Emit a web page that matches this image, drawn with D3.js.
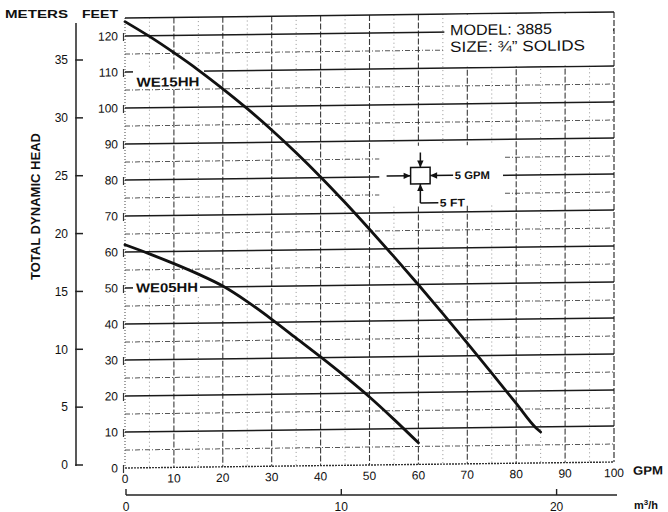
<!DOCTYPE html>
<html><head><meta charset="utf-8">
<script src="https://cdn.jsdelivr.net/npm/d3@7/dist/d3.min.js"></script>
<style>
body{margin:0;background:#fff}
svg{display:block}
text{font-family:"Liberation Sans",Arial,Helvetica,sans-serif;fill:#111}
</style>
</head><body>
<svg id="c" width="668" height="512"></svg>
<script>
// ---------------- data ----------------
const gpmTicks   = [0,10,20,30,40,50,60,70,80,90,100];
const feetTicks  = [0,10,20,30,40,50,60,70,80,90,100,110,120];
const meterTicks = [0,5,10,15,20,25,30,35];
const m3hTicks   = [0,10,20];

const we15hhGpm  = [0,5,10,15,20,25,30,35,40,45,50,55,60,65,70,75,80,84,85];
const we15hhFeet = [124,119.8,115.2,110.3,105,99.4,93.4,87,80.2,73,65.5,57.8,49.9,41.8,33.5,25.1,16.6,9.8,8.6];
const we05hhGpm  = [0,5,10,15,20,25,30,35,40,45,50,55,60];
const we05hhFeet = [62,59.4,56.6,53.6,50.2,45.8,40.8,35.5,30.2,24.7,18.9,12.6,6];

const curveNames  = ["WE15HH","WE05HH"];
const modelLines  = ["MODEL: 3885","SIZE: \u00BE\u201D SOLIDS"];
const scaleTexts  = ["5 GPM","5 FT"];
const axisTitles  = {meters:"METERS", feet:"FEET", head:"TOTAL DYNAMIC HEAD", gpm:"GPM"};

// ---------------- scales ----------------
const GPM_PER_M3H = 4.40287;
const x   = d3.scaleLinear().domain([0,100]).range([125,614]);
const y   = d3.scaleLinear().domain([0,125]).range([468,18]);
const yM  = d3.scaleLinear().domain([0,35]).range([465,60]);
const xM3 = d3.scaleLinear().domain([0,100/GPM_PER_M3H]).range([125,614]);

const svg = d3.select("#c");
svg.append("rect").attr("width",668).attr("height",512).attr("fill","#fff");

// scanned sheet is slightly sheared: right side sits higher
const g = svg.append("g").attr("transform","translate(0,1.53) skewY(-0.7)");

// ---------------- grid ----------------
const minorFeet = d3.range(5,125,10);
const minorGpm  = d3.range(5,100,10);

g.selectAll(".vminor").data(minorGpm).join("line")
  .attr("x1",d=>x(d)).attr("x2",d=>x(d)).attr("y1",y(125)).attr("y2",y(0))
  .attr("stroke","#8a8a8a").attr("stroke-width",0.9).attr("stroke-dasharray","1,3");

g.selectAll(".hminor").data(minorFeet).join("line")
  .attr("x1",x(0)).attr("x2",x(100)).attr("y1",d=>y(d)).attr("y2",d=>y(d))
  .attr("stroke","#555").attr("stroke-width",1).attr("stroke-dasharray","5,2,1,2");

g.selectAll(".vmajor").data(gpmTicks.filter(d=>d>0&&d<100)).join("line")
  .attr("x1",d=>x(d)).attr("x2",d=>x(d)).attr("y1",y(125)).attr("y2",y(0))
  .attr("stroke","#3a3a3a").attr("stroke-width",1.1).attr("stroke-dasharray","6,2");

g.append("line").attr("x1",x(0)).attr("x2",x(0)).attr("y1",y(125)).attr("y2",y(0))
  .attr("stroke","#444").attr("stroke-width",1).attr("stroke-dasharray","1,2");
g.append("line").attr("x1",x(100)).attr("x2",x(100)).attr("y1",y(125)).attr("y2",y(0))
  .attr("stroke","#333").attr("stroke-width",1.2).attr("stroke-dasharray","6,2");

g.selectAll(".hmajor").data(feetTicks.filter(d=>d>0).concat([125])).join("line")
  .attr("x1",x(0)).attr("x2",x(100)).attr("y1",d=>y(d)).attr("y2",d=>y(d))
  .attr("stroke","#1a1a1a").attr("stroke-width",1.5);
g.append("line").attr("x1",x(0)).attr("x2",x(100)).attr("y1",y(0)).attr("y2",y(0))
  .attr("stroke","#333").attr("stroke-width",1.4).attr("stroke-dasharray","2,1");

// ---------------- white panels ----------------
g.append("rect").attr("x",x(65)+1.5).attr("y",y(125)+1).attr("width",x(100)-x(65)-2.5)
  .attr("height",y(110)-y(125)-2).attr("fill","#fff");
g.append("rect").attr("x",x(52)).attr("y",y(88.5)).attr("width",x(77.3)-x(52))
  .attr("height",y(72)-y(88.5)).attr("fill","#fff");
g.append("rect").attr("x",133).attr("y",y(110)-2).attr("width",71).attr("height",y(105)-y(110))
  .attr("fill","#fff");
g.append("rect").attr("x",133).attr("y",y(50)-8).attr("width",67).attr("height",16)
  .attr("fill","#fff");

// ---------------- feet axis ----------------
g.selectAll(".ftick").data(feetTicks).join("line")
  .attr("x1",123.5).attr("x2",123.5).attr("y1",d=>y(d)-3).attr("y2",d=>y(d)+5)
  .attr("stroke","#333").attr("stroke-width",1.2);
g.selectAll(".flab").data(feetTicks).join("text")
  .attr("x",118).attr("y",d=>y(d)).attr("dy","0.36em").attr("text-anchor","end")
  .attr("font-size",12).text(d=>d);

// ---------------- GPM axis ----------------
g.selectAll(".glab").data(gpmTicks).join("text")
  .attr("x",d=>x(d)).attr("y",483).attr("text-anchor","middle")
  .attr("font-size",12).text(d=>d);
g.append("text").attr("x",633).attr("y",481).attr("font-size",12).attr("font-weight","bold")
  .attr("textLength",30).attr("lengthAdjust","spacingAndGlyphs").text(axisTitles.gpm);

// ---------------- curves ----------------
const line = d3.line().x(d=>x(d[0])).y(d=>y(d[1])).curve(d3.curveMonotoneX);
const curves = [d3.zip(we15hhGpm,we15hhFeet), d3.zip(we05hhGpm,we05hhFeet)];
g.selectAll(".curve").data(curves).join("path")
  .attr("d",line).attr("fill","none").attr("stroke","#111")
  .attr("stroke-width",2.8).attr("stroke-linecap","round").attr("stroke-linejoin","round");

g.append("text").attr("x",136.5).attr("y",87).attr("font-size",13).attr("font-weight","bold")
  .attr("textLength",63).attr("lengthAdjust","spacingAndGlyphs").text(curveNames[0]);
g.append("text").attr("x",136).attr("y",y(50)+4.6).attr("font-size",13).attr("font-weight","bold")
  .attr("textLength",62).attr("lengthAdjust","spacingAndGlyphs").text(curveNames[1]);

// ---------------- model text ----------------
g.append("text").attr("x",450).attr("y",39.2).attr("font-size",15)
  .attr("textLength",102).attr("lengthAdjust","spacingAndGlyphs").text(modelLines[0]);
g.append("text").attr("x",450).attr("y",56).attr("font-size",15)
  .attr("textLength",135).attr("lengthAdjust","spacingAndGlyphs").text(modelLines[1]);

// ---------------- scale indicator ----------------
const cx = x(60.4), cy = y(80.2), bw = 19.5, bh = 16.5;
const ind = g.append("g").attr("stroke","#111").attr("fill","none").attr("stroke-width",1.5);
ind.append("rect").attr("x",cx-bw/2).attr("y",cy-bh/2).attr("width",bw).attr("height",bh).attr("fill","#fff");
function arrow(x1,y1,x2,y2){
  ind.append("line").attr("x1",x1).attr("y1",y1).attr("x2",x2).attr("y2",y2);
  const a = Math.atan2(y2-y1,x2-x1), L=7, W=3.2;
  const p = [[x2,y2],[x2-L*Math.cos(a)+W*Math.sin(a), y2-L*Math.sin(a)-W*Math.cos(a)],
             [x2-L*Math.cos(a)-W*Math.sin(a), y2-L*Math.sin(a)+W*Math.cos(a)]];
  ind.append("path").attr("d","M"+p.join("L")+"Z").attr("fill","#111").attr("stroke","none");
}
arrow(cx, cy-bh/2-15, cx, cy-bh/2);
arrow(cx-bw/2-24, cy, cx-bw/2, cy);
arrow(cx+bw/2+23, cy, cx+bw/2, cy);
arrow(cx, cy+bh/2+19, cx, cy+bh/2);
ind.append("line").attr("x1",cx).attr("y1",cy+bh/2+19).attr("x2",cx+18).attr("y2",cy+bh/2+19);
g.append("text").attr("x",cx+34.5).attr("y",cy).attr("dy","0.36em").attr("font-size",11)
  .attr("font-weight","bold").attr("textLength",35).attr("lengthAdjust","spacingAndGlyphs").text(scaleTexts[0]);
g.append("text").attr("x",cx+19.5).attr("y",cy+bh/2+19).attr("dy","0.36em").attr("font-size",11)
  .attr("font-weight","bold").attr("textLength",25).attr("lengthAdjust","spacingAndGlyphs").text(scaleTexts[1]);

// ---------------- meters axis ----------------
svg.append("line").attr("x1",76).attr("x2",76).attr("y1",23).attr("y2",yM(0)+1)
  .attr("stroke","#222").attr("stroke-width",1.5);
svg.selectAll(".mtick").data(meterTicks).join("line")
  .attr("x1",75.25).attr("x2",83).attr("y1",d=>yM(d)).attr("y2",d=>yM(d))
  .attr("stroke","#222").attr("stroke-width",1.5);
svg.selectAll(".mlab").data(meterTicks).join("text")
  .attr("x",68).attr("y",d=>yM(d)).attr("dy","0.36em").attr("text-anchor","end")
  .attr("font-size",12).text(d=>d);

svg.append("text").attr("x",5).attr("y",18).attr("font-size",11).attr("font-weight","bold")
  .attr("textLength",63).attr("lengthAdjust","spacingAndGlyphs").text(axisTitles.meters);
svg.append("text").attr("x",82).attr("y",18).attr("font-size",11).attr("font-weight","bold")
  .attr("textLength",36).attr("lengthAdjust","spacingAndGlyphs").text(axisTitles.feet);
svg.append("text").attr("transform","translate(40,206.5) rotate(-90)").attr("text-anchor","middle")
  .attr("font-size",13).attr("font-weight","bold")
  .attr("textLength",147).attr("lengthAdjust","spacingAndGlyphs").text(axisTitles.head);

// ---------------- m3/h axis ----------------
svg.append("line").attr("x1",126).attr("x2",617).attr("y1",495).attr("y2",495)
  .attr("stroke","#222").attr("stroke-width",1.4);
svg.selectAll(".m3tick").data(m3hTicks).join("line")
  .attr("x1",d=>xM3(d)+1).attr("x2",d=>xM3(d)+1).attr("y1",489).attr("y2",495)
  .attr("stroke","#222").attr("stroke-width",1.4);
svg.selectAll(".m3lab").data(m3hTicks).join("text")
  .attr("x",d=>xM3(d)+1).attr("y",510.5).attr("text-anchor","middle")
  .attr("font-size",12).text(d=>d);
const mt = svg.append("text").attr("x",634).attr("y",509).attr("font-size",11).attr("font-weight","bold");
mt.append("tspan").text("m");
mt.append("tspan").attr("dy",-4).attr("font-size",8).text("3");
mt.append("tspan").attr("dy",4).text("/h");
</script>
</body></html>
